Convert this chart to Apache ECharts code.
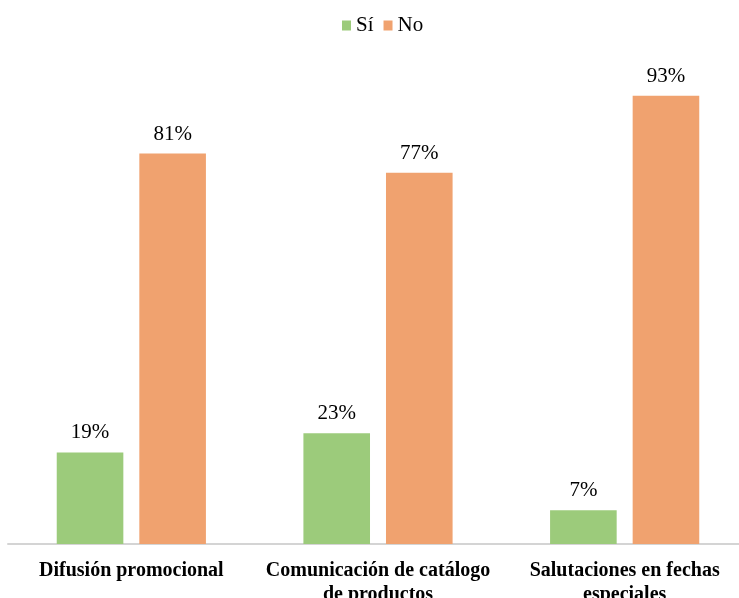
<!DOCTYPE html>
<html>
<head>
<meta charset="utf-8">
<script src="https://cdn.jsdelivr.net/npm/echarts@6/dist/echarts.min.js"></script>
<style>html,body{margin:0;padding:0;background:#fff;}#c{width:739px;height:598px;}</style>
</head>
<body>
<div id="c"></div>
<script>
const categories = ['Difusión promocional', 'Comunicación de catálogo\nde productos', 'Salutaciones en fechas\nespeciales'];
const seriesNames = ['Sí', 'No'];
const siValues = [19, 23, 7];
const noValues = [81, 77, 93];

const chart = echarts.init(document.getElementById('c'));
const labelStyle = {
  show: true, position: 'top', distance: 9,
  formatter: '{c}%', fontFamily: 'Liberation Serif', fontSize: 21, color: '#000'
};
chart.setOption({
  animation: false,
  legend: {
    top: 15, left: 342, itemWidth: 9, itemHeight: 10, itemGap: 10,
    icon: 'rect', padding: 0,
    textStyle: { fontFamily: 'Liberation Serif', fontSize: 21, color: '#000', padding: [0, 0, 0, 0] },
    data: seriesNames
  },
  grid: { left: 8, top: 62, width: 740, height: 482, containLabel: false, outerBoundsMode: 'none' },
  xAxis: {
    type: 'category', data: categories,
    axisLine: { lineStyle: { color: '#d4d4d4', width: 2 } },
    axisTick: { show: false },
    axisLabel: {
      interval: 0, margin: 15, fontFamily: 'Liberation Serif', fontWeight: 'bold',
      fontSize: 20, lineHeight: 24, color: '#000'
    }
  },
  yAxis: { type: 'value', min: 0, max: 100, show: false, splitLine: { show: false } },
  series: [
    { name: seriesNames[0], type: 'bar', data: siValues, barWidth: '27%', barGap: '24%',
      itemStyle: { color: '#9ccb7b' }, label: labelStyle },
    { name: seriesNames[1], type: 'bar', data: noValues, barWidth: '27%', barGap: '24%',
      itemStyle: { color: '#f0a26f' }, label: labelStyle }
  ]
});
</script>
</body>
</html>
